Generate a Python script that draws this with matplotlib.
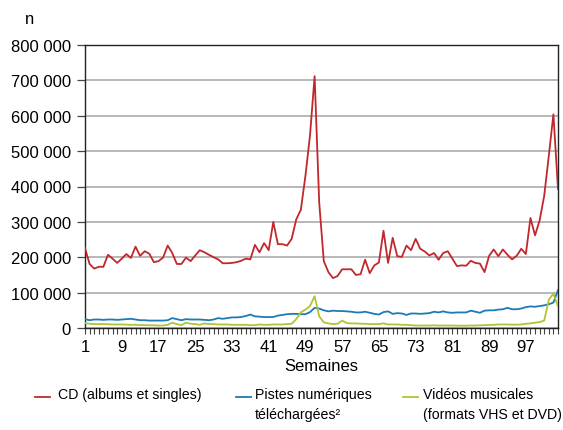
import matplotlib
matplotlib.use("Agg")
import matplotlib.pyplot as plt
from matplotlib.lines import Line2D
from matplotlib.ticker import FuncFormatter, MultipleLocator, FixedLocator
import numpy as np

plt.rcParams['font.family'] = ['Liberation Sans', 'DejaVu Sans']

weeks = list(range(1, 105))

cd = [226, 181, 168, 173, 173, 207, 196, 184, 196, 209,
      198, 230, 204, 217, 210, 186, 189, 199, 233, 212,
      181, 181, 199, 189, 205, 220, 214, 207, 200, 194,
      183, 183, 184, 186, 190, 196, 194, 235, 214, 240,
      220, 300, 237, 237, 233, 252, 307, 334, 430, 545,
      712, 355, 189, 158, 141, 147, 166, 166, 166, 150,
      152, 193, 155, 177, 185, 275, 184, 255, 203, 201,
      233, 220, 252, 224, 216, 205, 212, 193, 212, 217,
      196, 175, 177, 176, 190, 184, 182, 158, 204, 222,
      203, 222, 207, 194, 204, 224, 209, 311, 262, 304,
      374, 487, 604, 393]

pistes = [25, 22, 24, 24, 23, 24, 24, 23, 24, 25,
          26, 24, 22, 22, 21, 21, 21, 21, 22, 28,
          25, 22, 25, 24, 24, 24, 23, 22, 24, 28,
          26, 28, 30, 30, 31, 34, 38, 33, 32, 31,
          31, 31, 35, 37, 39, 40, 40, 39, 39, 45,
          57, 55, 50, 47, 49, 48, 48, 47, 46, 44,
          44, 46, 43, 40, 38, 45, 47, 40, 42, 41,
          37, 41, 41, 40, 41, 42, 46, 44, 47, 44,
          43, 44, 44, 44, 49, 46, 43, 49, 50, 50,
          52, 53, 57, 53, 53, 55, 59, 61, 60, 62,
          64, 67, 72, 107]

videos = [14, 12, 11, 11, 11, 10.5, 10, 10, 10, 9.5,
          9, 9, 8.5, 8, 8, 7.5, 7, 7, 9, 15,
          11, 8, 15, 12, 11, 9, 13, 11, 11, 10,
          10, 10, 9, 9, 9, 9, 8, 8, 10, 9,
          9, 10, 10, 10, 11, 12, 25, 44, 52, 62,
          90, 33, 16, 13, 11, 12, 21, 14, 13, 13,
          12, 12, 11, 11, 11, 13, 10, 10, 10, 9,
          9, 8, 7, 7, 7, 7, 7.5, 7, 7, 7,
          7, 6.5, 6.5, 6.5, 7, 7, 7.5, 8, 8.5, 9,
          10, 10, 10, 9.5, 9.5, 10, 12, 13, 15, 17,
          21, 80, 97, 61]

series_labels = ["CD (albums et singles)",
                 "Pistes numériques\ntéléchargées²",
                 "Vidéos musicales\n(formats VHS et DVD)"]
colors = ["#c1272d", "#1b7bb3", "#b4c232"]
xtick_labels = [1, 9, 17, 25, 33, 41, 49, 57, 65, 73, 81, 89, 97]
ytick_values = [0, 100000, 200000, 300000, 400000, 500000, 600000, 700000, 800000]

W, H = 563, 431
fig = plt.figure(figsize=(W / 100, H / 100), dpi=100)
ax = fig.add_axes([85 / W, 1 - 329 / H, (558 - 85) / W, (329 - 46) / H])

data = [cd, pistes, videos]
for vals, c in zip(data, colors):
    ax.plot(weeks, np.array(vals) * 1000, color=c, lw=1.3, zorder=3)

ax.set_xlim(1, 104)
ax.set_ylim(0, 800000)
ax.yaxis.set_major_locator(FixedLocator(ytick_values))
ax.yaxis.set_major_formatter(FuncFormatter(lambda v, p: f"{int(v):,}".replace(",", " ")))
ax.xaxis.set_major_locator(FixedLocator(xtick_labels))
ax.xaxis.set_minor_locator(MultipleLocator(1))
ax.grid(axis='y', color='#b8b8b8', lw=1.4, zorder=1)
for s in ax.spines.values():
    s.set_color('#222222')
    s.set_linewidth(1.0)
ax.tick_params(axis='y', length=6, width=0.9, color='#444444', labelsize=12, pad=4)
ax.tick_params(axis='x', which='both', length=4, width=0.8, color='#444444', labelsize=12, pad=4)
ax.set_xlabel("Semaines", fontsize=12, labelpad=3)

fig.text(30 / W, 1 - 20 / H, "n", fontsize=12, ha='center', va='center')

# legend drawn manually so the handles align with the first line of text
leg_y = 1 - 398 / H
handle_x = [(35, 50), (236, 251), (403, 418)]
text_x = [58, 255, 423]
for (x0, x1), tx, lab, c in zip(handle_x, text_x, series_labels, colors):
    fig.add_artist(Line2D([x0 / W, x1 / W], [leg_y, leg_y], transform=fig.transFigure,
                          color=c, lw=1.3))
    fig.text(tx / W, leg_y + 10 / H, lab, fontsize=10.2, ha='left', va='top', linespacing=1.5)

fig.savefig("out.png", dpi=100)
